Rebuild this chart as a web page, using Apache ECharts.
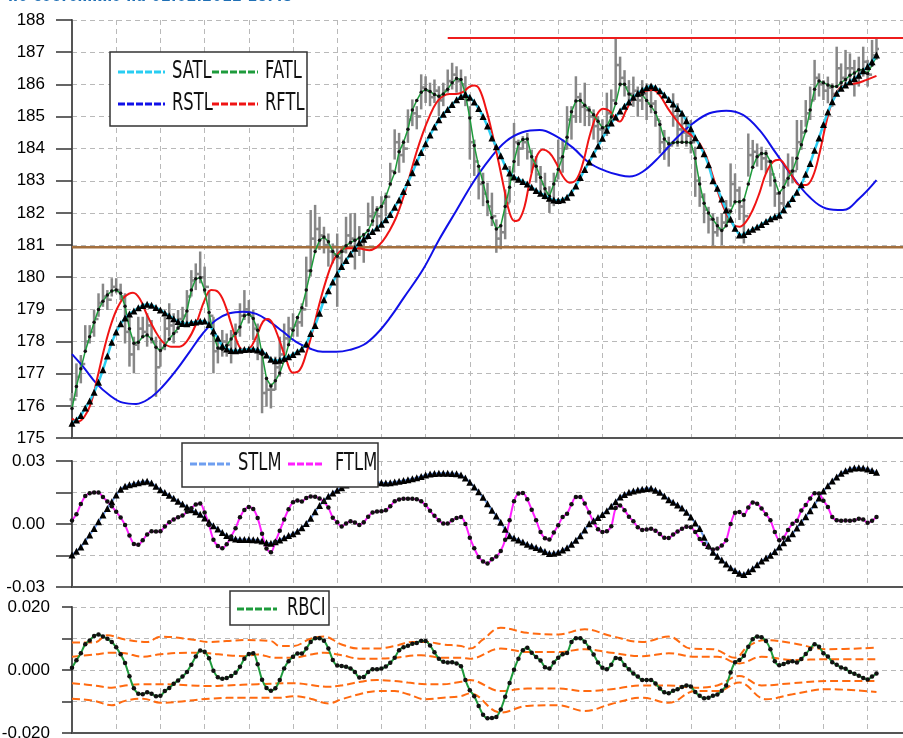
<!DOCTYPE html>
<html>
<head>
<meta charset="utf-8">
<script src="https://cdn.jsdelivr.net/npm/echarts/dist/echarts.min.js"></script>
<style>
html, body { margin: 0; padding: 0; background: #fff; }
#chart { width: 903px; height: 738px; }
</style>
</head>
<body>
<div id="chart"></div>
<script>
// price bars, one per bar index
const barHigh = [176.4,177.32,177.58,178.51,178.51,178.98,179.5,179.8,179.6,179.97,
179.97,179.8,179.5,178.77,178.15,178.77,178.77,178.88,178.67,178.15,
178.05,178.77,179.19,178.88,178.98,179.08,179.6,180.22,180.43,180.8,
180.33,179.6,178.77,178.15,178.36,178.25,178.36,178.56,179.19,179.6,
179.29,178.98,178.56,177.73,176.91,176.7,177.53,178.15,178.56,178.77,
178.88,178.77,179.19,180.64,182.09,182.25,181.88,181.57,181.36,181.05,
181.36,180.95,181.88,181.99,182.0,181.59,181.38,182.32,182.52,182.21,
182.52,182.63,183.56,184.6,184.49,184.28,185.22,185.53,185.32,186.31,
186.25,186.05,186.15,185.94,186.05,186.46,186.67,186.56,186.46,186.25,
185.32,184.28,183.46,183.25,182.94,182.63,181.8,181.59,182.73,183.46,
184.8,184.28,184.39,184.49,183.97,183.77,183.46,183.25,182.83,183.25,
184.28,184.28,185.32,185.32,186.25,185.74,186.05,185.32,185.22,185.01,
184.91,185.74,185.84,187.42,186.86,186.44,186.13,186.24,185.93,186.13,
186.03,185.93,185.51,184.89,184.58,184.37,185.72,185.41,184.99,184.99,
184.89,184.06,183.13,182.61,182.19,181.99,181.88,181.99,182.4,183.54,
183.23,182.82,182.4,184.47,184.27,184.16,184.06,183.96,183.65,183.13,
182.61,183.54,183.85,183.75,184.89,184.89,185.51,185.93,186.76,186.34,
186.13,186.24,186.03,187.17,186.65,187.07,186.96,186.76,186.86,187.17,
186.76,187.38,187.43];
const barLow = [175.9,176.28,176.7,177.73,177.94,178.15,178.77,179.08,178.98,179.4,
179.5,179.29,177.94,177.22,177.01,177.73,178.15,177.84,177.94,176.28,
177.22,177.73,178.15,177.94,178.36,178.46,178.56,179.4,179.6,179.81,
179.5,178.56,177.01,177.32,177.53,177.53,177.32,177.73,178.15,178.67,
178.56,178.05,177.42,175.77,175.97,175.92,176.49,176.91,177.63,177.94,
178.15,178.15,178.46,179.08,180.02,180.85,180.85,180.74,180.33,180.43,
179.08,180.33,180.74,180.95,180.24,180.66,180.45,181.59,181.59,181.49,
181.59,181.9,182.83,183.66,183.25,183.56,184.18,184.7,184.6,185.22,
185.42,185.32,185.42,185.01,185.32,185.74,185.84,185.74,185.74,185.32,
183.66,183.15,182.42,182.21,181.9,181.59,180.76,180.87,181.18,182.32,
183.25,183.46,183.97,183.66,183.25,182.94,182.63,182.42,182.0,182.21,
183.04,183.25,183.97,184.28,184.8,184.8,184.7,184.7,184.28,184.18,
184.28,184.39,184.7,185.41,185.93,185.62,185.41,185.3,184.99,185.2,
184.89,185.1,184.68,183.85,183.65,183.44,184.68,184.06,184.16,184.06,
183.85,182.5,182.19,181.68,181.36,180.98,181.26,181.0,181.57,182.19,
182.4,181.78,181.05,183.13,183.44,183.44,183.33,183.23,182.82,182.19,
181.88,182.19,182.82,182.92,183.33,183.96,184.68,184.89,185.51,185.62,
185.51,185.41,185.3,185.93,185.82,185.93,186.13,185.62,185.93,186.24,
185.93,186.55,186.76];
const barClose = [176.2,176.9,177.3,178.0,178.3,178.7,179.2,179.4,179.3,179.7,
179.6,179.4,178.3,177.6,177.9,178.4,178.3,178.5,178.0,177.2,
177.8,178.4,178.5,178.3,178.7,178.8,179.4,179.9,180.1,180.0,
179.7,178.8,177.7,177.8,178.0,177.9,178.2,178.3,178.8,179.0,
178.8,178.4,177.7,176.4,176.5,176.5,177.2,177.6,178.1,178.4,
178.5,178.6,179.0,180.2,181.2,181.5,181.3,181.0,180.8,180.7,
180.6,180.8,181.3,181.2,181.0,181.1,181.2,181.9,182.0,181.9,
182.3,182.5,183.3,184.2,183.8,184.0,184.9,185.1,185.0,185.9,
185.8,185.6,185.8,185.5,185.8,186.1,186.3,186.1,186.0,185.5,
184.2,183.6,182.9,182.6,182.2,181.9,181.2,181.4,182.3,183.1,
184.2,184.0,184.2,183.9,183.5,183.2,182.9,182.6,182.4,183.0,
183.7,184.0,184.9,185.0,185.6,185.3,185.2,185.0,184.7,184.6,
184.6,185.1,185.5,186.6,186.2,185.9,185.7,185.8,185.5,185.7,
185.4,185.4,184.9,184.2,184.0,184.1,185.0,184.6,184.5,184.4,
184.2,183.0,182.5,182.1,181.8,181.4,181.5,181.7,182.1,182.9,
182.7,182.2,181.9,183.8,183.9,183.8,183.7,183.6,183.2,182.6,
182.3,183.0,183.3,183.3,184.2,184.5,185.1,185.5,186.2,186.0,
185.8,185.9,185.7,186.5,186.2,186.5,186.5,186.2,186.4,186.7,
186.3,186.9,187.1];

const fatl = [175.92,176.6,177.15,177.7,178.15,178.6,179.0,179.25,179.45,179.57,
179.6,179.5,179.1,178.4,177.95,177.98,178.15,178.2,178.08,177.82,
177.72,177.88,178.08,178.25,178.42,178.6,178.95,179.6,179.95,179.98,
179.6,178.9,178.2,177.8,177.76,177.88,178.08,178.25,178.45,178.8,
178.85,178.72,178.35,177.6,176.85,176.62,176.78,177.02,177.4,177.9,
178.35,178.75,179.05,179.6,180.2,180.8,181.15,181.25,181.1,180.8,
180.65,180.8,180.98,181.08,181.15,181.22,181.32,181.45,181.75,182.1,
182.2,182.5,182.9,183.25,183.9,184.2,184.6,185.2,185.5,185.75,
185.84,185.78,185.68,185.63,185.7,185.85,186.05,186.18,186.15,185.7,
184.95,184.1,183.45,182.95,182.35,181.85,181.5,181.6,182.2,182.8,
183.6,184.15,184.28,184.3,183.75,183.45,183.1,182.75,182.52,182.9,
183.35,183.75,184.35,185.15,185.48,185.5,185.35,185.2,185.05,184.85,
184.65,184.7,184.98,185.4,186.0,186.0,185.7,185.6,185.65,185.68,
185.5,185.32,185.12,184.75,184.3,184.15,184.18,184.2,184.2,184.2,
184.18,183.7,182.9,182.3,182.0,181.8,181.6,181.45,181.6,182.05,
182.35,182.35,182.4,182.9,183.42,183.75,183.85,183.85,183.6,183.0,
182.62,182.8,183.08,183.3,183.7,184.12,184.55,185.2,185.85,186.1,
186.05,185.98,185.93,185.93,186.05,186.15,186.28,186.35,186.45,186.45,
186.34,186.6,186.86];

const satl = [175.46,175.56,175.7,175.93,176.15,176.42,176.73,177.12,177.55,177.98,
178.3,178.55,178.73,178.86,178.95,179.05,179.12,179.16,179.13,179.06,
178.98,178.89,178.8,178.71,178.62,178.56,178.55,178.59,178.61,178.63,
178.64,178.53,178.33,178.1,177.86,177.77,177.72,177.71,177.73,177.75,
177.76,177.76,177.74,177.7,177.58,177.45,177.4,177.42,177.48,177.53,
177.6,177.68,177.77,177.92,178.25,178.5,178.88,179.3,179.58,179.85,
180.1,180.33,180.52,180.72,180.9,181.07,181.18,181.3,181.42,181.53,
181.65,181.79,181.95,182.18,182.4,182.67,182.95,183.25,183.58,183.88,
184.15,184.42,184.67,184.9,185.07,185.22,185.37,185.52,185.62,185.68,
185.6,185.45,185.25,185.0,184.7,184.33,184.06,183.78,183.45,183.24,
183.12,183.05,182.98,182.9,182.8,182.7,182.61,182.54,182.46,182.4,
182.39,182.41,182.49,182.63,182.84,183.1,183.35,183.58,183.83,184.08,
184.32,184.57,184.8,184.98,185.17,185.32,185.45,185.6,185.72,185.82,
185.9,185.95,185.9,185.8,185.67,185.53,185.39,185.25,185.1,184.87,
184.62,184.34,184.1,183.84,183.5,183.0,182.77,182.43,182.09,181.8,
181.52,181.31,181.33,181.42,181.49,181.56,181.64,181.73,181.82,181.88,
181.93,182.1,182.28,182.45,182.64,182.88,183.2,183.54,183.95,184.33,
184.75,185.14,185.46,185.72,185.88,185.98,186.08,186.18,186.28,186.42,
186.55,186.7,186.91];

// slow lines read as [bar, value] points
const rstl = [[0,177.61],[2.5,177.22],[5.5,176.7],[8.5,176.33],[11.5,176.1],[14.5,176.06],[17.5,176.23],
[20.5,176.6],[23.6,177.11],[26.6,177.68],[29.6,178.25],[32.6,178.67],[35.6,178.88],[38.7,178.93],
[41.7,178.86],[44.7,178.62],[47.7,178.31],[50.7,177.99],[53.7,177.79],[56.7,177.68],[59.8,177.68],
[62.8,177.74],[66,177.9],[69,178.25],[72,178.75],[75,179.35],[79.4,180.24],[83.1,181.18],
[86.9,182.06],[90.7,182.94],[94.4,183.66],[98.2,184.23],[101.9,184.51],[105.8,184.58],[109.5,184.39],
[113.3,184.03],[117,183.56],[120.8,183.3],[124,183.17],[126.1,183.13],[129.1,183.28],[132.9,183.75],
[136.7,184.32],[140.5,184.79],[144.2,185.1],[148,185.18],[151.8,185.05],[155.5,184.58],[159.3,183.85],
[163,183.13],[166.8,182.5],[170.6,182.14],[174.4,182.09],[178.1,182.45],[182,183.02]];
const rftl = [[0,175.61],[1.3,175.51],[2.8,175.66],[4.3,176.08],[5.8,176.91],[7.4,177.84],[8.9,178.56],
[10.4,179.08],[11.9,179.39],[13.8,179.52],[15.3,179.34],[16.8,178.88],[18.7,178.36],[20.5,177.99],
[22.4,177.84],[24.3,177.84],[26.2,178.05],[28.1,178.56],[30,179.29],[31.5,179.6],[33,179.55],
[34.5,179.19],[36,178.56],[37.5,177.94],[38.7,177.74],[40.2,177.79],[41.7,178.15],[43.2,178.62],
[44.3,178.7],[45.4,178.56],[46.9,178.05],[48.5,177.42],[50,177.03],[51.5,177.11],[53,177.63],
[54.5,178.36],[56,179.19],[57.5,179.91],[59,180.48],[60.5,180.79],[62,180.9],[65,180.89],
[67.3,180.84],[68.8,180.92],[70.3,181.12],[71.8,181.44],[73.3,181.85],[74.8,182.42],[76.4,183.15],
[77.9,183.87],[79.4,184.49],[80.9,185.01],[82.4,185.42],[83.9,185.63],[85.4,185.7],[86.9,185.7],
[88.4,185.76],[89.9,185.92],[91,185.96],[92.2,185.84],[93.7,185.22],[95.2,184.39],[96.7,183.46],
[97.8,182.73],[99,182.0],[100.1,181.75],[101.2,181.8],[102.4,182.21],[103.5,182.94],[105,183.71],
[106.5,183.97],[108,183.87],[109.5,183.56],[111,183.15],[112.6,182.94],[114.1,183.04],[115.6,183.56],
[117.1,184.39],[118.6,185.01],[120.1,185.24],[121.6,185.17],[123.1,184.91],[123.9,184.84],[125.4,185.2],
[126.9,185.56],[129.1,185.77],[131.4,185.82],[132.9,185.67],[134.8,185.25],[136.7,184.89],[138.6,184.58],
[140.5,184.37],[142,184.16],[143.5,183.75],[144.9,183.18],[146.5,182.5],[148,181.99],[149.5,181.65],
[151,181.57],[152.5,181.73],[154,182.09],[155.5,182.61],[157,183.23],[158.6,183.59],[160,183.65],
[161.5,183.44],[163,183.13],[164.6,182.87],[166.1,182.87],[167.6,183.13],[169.1,183.85],[170.6,184.79],
[172.1,185.51],[173.6,185.87],[175.1,185.98],[177.4,186.03],[179.6,186.13],[182,186.26]];

const resistance = 187.44;
const resistanceFrom = 85;
const support = 180.93;

const stlm = [-0.0148,-0.013,-0.011,-0.0082,-0.0052,-0.0022,0.0011,0.0043,0.0074,0.0106,
0.0138,0.0166,0.018,0.0187,0.0192,0.0197,0.0201,0.0203,0.0195,0.018,
0.0163,0.015,0.0137,0.0123,0.0108,0.0095,0.0081,0.0068,0.0058,0.0046,
0.0028,0.001,-0.0008,-0.0024,-0.0041,-0.0055,-0.0065,-0.0071,-0.0074,-0.0074,
-0.0074,-0.0075,-0.0076,-0.0081,-0.0089,-0.0092,-0.0085,-0.0076,-0.0066,-0.0055,
-0.0046,-0.0035,-0.0018,0.0002,0.0027,0.0058,0.0088,0.0112,0.0132,0.0148,
0.0161,0.0173,0.0186,0.0195,0.0197,0.0199,0.0201,0.0204,0.0202,0.02,
0.0197,0.0195,0.0196,0.02,0.0204,0.0207,0.0211,0.0215,0.022,0.0226,
0.0233,0.0238,0.024,0.0242,0.0242,0.0242,0.0241,0.0239,0.0233,0.0219,
0.0199,0.0176,0.0153,0.0127,0.0096,0.0066,0.0038,0.0008,-0.0025,-0.0056,
-0.0067,-0.0076,-0.0086,-0.0097,-0.0105,-0.0112,-0.012,-0.0131,-0.0141,-0.0139,
-0.0134,-0.0124,-0.0113,-0.0096,-0.0077,-0.0056,-0.0028,0.0001,0.0016,0.0031,
0.0045,0.0063,0.0084,0.0106,0.0129,0.0141,0.0151,0.0157,0.0162,0.0166,
0.0169,0.017,0.0161,0.0151,0.0133,0.0116,0.0103,0.0091,0.0076,0.0056,
0.0033,0.0005,-0.0022,-0.0063,-0.0102,-0.0135,-0.0153,-0.0172,-0.019,-0.0208,
-0.0221,-0.0234,-0.0241,-0.0226,-0.0213,-0.0194,-0.0176,-0.0162,-0.0149,-0.0131,
-0.011,-0.0089,-0.0068,-0.0047,-0.0019,0.0008,0.0035,0.0063,0.0092,0.0124,
0.0157,0.0182,0.0205,0.0224,0.0242,0.0253,0.0262,0.0267,0.0268,0.0267,
0.0262,0.0255,0.0246];

const ftlm = [0.0017,0.0047,0.0095,0.0133,0.0147,0.015,0.015,0.0128,0.0107,0.0085,
0.0058,0.0031,-0.0005,-0.0055,-0.0095,-0.0099,-0.0077,-0.005,-0.0035,-0.0036,
-0.0035,-0.0012,0.0008,0.0022,0.0032,0.004,0.0058,0.0075,0.0093,0.0098,
0.0055,-0.0005,-0.0075,-0.0105,-0.0115,-0.0097,-0.006,-0.002,0.0032,0.0067,
0.0081,0.0072,0.0028,-0.0047,-0.0117,-0.0135,-0.0085,-0.0032,0.0022,0.007,
0.0104,0.0112,0.0107,0.0124,0.0131,0.013,0.0122,0.0105,0.0078,0.003,
0.0008,-0.0012,0.0002,0.0013,0.0007,-0.0005,0.0008,0.0035,0.0055,0.0059,
0.0061,0.0065,0.0085,0.0108,0.0117,0.012,0.012,0.012,0.0118,0.0108,
0.009,0.0063,0.0039,0.0018,0.0002,0.0002,0.0018,0.0028,0.0033,0.0,
-0.0065,-0.0115,-0.0157,-0.0178,-0.0188,-0.0168,-0.0155,-0.0128,-0.0075,0.0018,
0.0108,0.0145,0.0148,0.0118,0.0068,0.0018,-0.0038,-0.0068,-0.0074,-0.004,
-0.0006,0.0033,0.0049,0.0094,0.0128,0.0128,0.0098,0.0055,0.0008,-0.0025,
-0.0038,-0.0034,-0.0011,0.0076,0.0088,0.0066,0.0035,0.0013,-0.0015,-0.0028,
-0.0026,-0.0023,-0.0032,-0.0048,-0.0066,-0.0067,-0.005,-0.0036,-0.0023,-0.0013,
-0.0015,-0.0038,-0.0072,-0.0095,-0.0112,-0.0121,-0.0117,-0.0102,-0.0077,0.0,
0.0053,0.0057,0.0043,0.0078,0.0102,0.0097,0.0074,0.0046,0.0018,-0.0038,
-0.0077,-0.0065,-0.0028,0.0001,0.0016,0.0064,0.009,0.0122,0.0147,0.0145,
0.0111,0.0081,0.0033,0.0018,0.0015,0.0017,0.0015,0.0018,0.0025,0.0021,
0.0006,0.0015,0.0033];

const rbci = [0.0007,0.0031,0.0053,0.0082,0.0094,0.0108,0.0113,0.0106,0.0099,0.0089,
0.0072,0.005,0.0022,-0.002,-0.0058,-0.0075,-0.0077,-0.0071,-0.0075,-0.0083,
-0.0082,-0.0067,-0.0057,-0.0044,-0.0033,-0.0021,-0.0006,0.0017,0.0043,0.0062,
0.0058,0.0037,-0.0002,-0.0023,-0.0028,-0.0025,-0.0019,-0.0009,0.001,0.0036,
0.0051,0.0053,0.0018,-0.0031,-0.0057,-0.0066,-0.0058,-0.0032,0.0005,0.0028,
0.0042,0.0052,0.0052,0.0068,0.0089,0.0101,0.0101,0.0093,0.0068,0.0032,
0.0014,0.0013,0.001,0.0005,-0.0006,-0.0024,-0.0022,-0.0006,0.0002,0.0002,
0.0005,0.0011,0.0023,0.0039,0.0063,0.0072,0.0077,0.0083,0.0086,0.0093,
0.0092,0.0078,0.0056,0.0036,0.0026,0.0024,0.0025,0.0021,0.0012,-0.0032,
-0.0064,-0.0083,-0.0114,-0.0142,-0.0153,-0.0152,-0.0149,-0.0125,-0.0085,-0.0041,
0.0001,0.0036,0.0063,0.0071,0.0055,0.0041,0.003,0.0009,0.0005,0.0024,
0.0039,0.005,0.0054,0.0089,0.0101,0.0101,0.009,0.0071,0.0049,0.0024,
0.0007,0.0002,0.0017,0.0038,0.0036,0.0016,0.0002,-0.0011,-0.0021,-0.0032,
-0.0032,-0.0032,-0.0043,-0.0059,-0.0071,-0.0074,-0.0066,-0.0061,-0.0054,-0.0049,
-0.0052,-0.007,-0.0082,-0.009,-0.0088,-0.0082,-0.0078,-0.0066,-0.0049,-0.0008,
0.0025,0.0032,0.0045,0.0074,0.0098,0.0106,0.0104,0.0092,0.0066,0.0028,
0.0015,0.0019,0.0025,0.0028,0.0024,0.0035,0.0051,0.0067,0.0082,0.0074,
0.0053,0.0043,0.0025,0.0017,0.0008,0.0004,-0.0006,-0.0012,-0.0018,-0.0025,
-0.003,-0.0021,-0.0011];

// RBCI bands read as [bar, value] points
const bandUp2 = [[0,0.0087],[5,0.0087],[8,0.011],[12,0.0097],[17,0.0089],[20,0.0106],[27,0.0097],[31,0.0089],
[35,0.0092],[39,0.0095],[45,0.0092],[47,0.0076],[50,0.0076],[54,0.0099],[57,0.0106],[61,0.0081],[65,0.0068],
[69,0.0068],[73,0.0076],[77,0.0089],[80,0.0089],[84,0.0081],[88,0.0076],[90,0.0068],[93,0.0097],[97,0.0134],
[103,0.0118],[110,0.0113],[116,0.0129],[122,0.0108],[129,0.0089],[135,0.0106],[140,0.0068],[145,0.0066],
[150,0.0039],[153,0.0076],[157,0.0095],[163,0.0085],[171,0.0066],[182,0.0071]];
const bandUp1 = [[0,0.0042],[5,0.0049],[9,0.0055],[12,0.0053],[16,0.0042],[20,0.005],[27,0.0055],[31,0.0053],
[35,0.0047],[39,0.0044],[42,0.0049],[46,0.0039],[50,0.0039],[54,0.0049],[57,0.0055],[61,0.0047],[65,0.0036],
[69,0.0036],[73,0.0039],[79,0.0047],[84,0.0039],[88,0.0039],[90,0.0036],[97,0.0068],[103,0.0057],[110,0.0057],
[116,0.0066],[122,0.0055],[129,0.0044],[135,0.0053],[141,0.0042],[146,0.0042],[151,0.0021],[156,0.0042],
[163,0.0032],[171,0.0034],[182,0.0034]];
const bandDn1 = [[0,-0.0042],[5,-0.0049],[9,-0.0056],[12,-0.0049],[16,-0.0045],[20,-0.0045],[27,-0.0049],
[31,-0.0051],[35,-0.0049],[42,-0.0045],[50,-0.0042],[58,-0.0053],[61,-0.0049],[65,-0.0038],[69,-0.0032],
[73,-0.0035],[76,-0.004],[80,-0.0045],[84,-0.0045],[88,-0.0037],[90,-0.0032],[97,-0.0067],[103,-0.0059],
[110,-0.0059],[116,-0.0067],[122,-0.0061],[129,-0.0049],[135,-0.0049],[141,-0.0056],[146,-0.0049],
[151,-0.0019],[156,-0.0049],[163,-0.0042],[171,-0.0035],[182,-0.0035]];
const bandDn2 = [[0,-0.0091],[5,-0.0098],[9,-0.0112],[12,-0.0098],[16,-0.0091],[20,-0.0104],[24,-0.0101],
[31,-0.0091],[39,-0.0088],[47,-0.0088],[50,-0.0083],[54,-0.0091],[58,-0.0106],[61,-0.0093],[65,-0.0077],
[69,-0.0067],[73,-0.0067],[76,-0.0077],[80,-0.0093],[84,-0.0088],[88,-0.0083],[90,-0.0074],[97,-0.0135],
[103,-0.0114],[110,-0.0112],[116,-0.013],[122,-0.0108],[129,-0.0088],[135,-0.0104],[141,-0.0067],
[146,-0.0067],[151,-0.004],[157,-0.0093],[163,-0.0077],[171,-0.0061],[182,-0.007]];

const barCount = 188;
const labelFont = '"Liberation Sans", Arial, sans-serif';
const axisColor = '#555';
const gridDash = { color: '#b9b9b9', type: [5, 4], width: 1 };

const chart = echarts.init(document.getElementById('chart'));

const indexed = arr => arr.map((v, i) => [i, v]);
const near = (a, b) => Math.abs(a - b) < 1e-9;

const priceData = barHigh.map((h, i) => [i, h, barLow[i], barClose[i], i ? barClose[i - 1] : barClose[0]]);

function renderPriceBar(params, api) {
  const i = api.value(0);
  const hi = api.coord([i, api.value(1)]);
  const lo = api.coord([i, api.value(2)]);
  const cl = api.coord([i, api.value(3)]);
  const op = api.coord([i, api.value(4)]);
  const st = { stroke: '#878787', lineWidth: 2.5 };
  return {
    type: 'group',
    children: [
      { type: 'line', shape: { x1: hi[0], y1: hi[1], x2: lo[0], y2: lo[1] }, style: st },
      { type: 'line', shape: { x1: hi[0] - 2.5, y1: op[1], x2: hi[0], y2: op[1] }, style: st },
      { type: 'line', shape: { x1: hi[0], y1: cl[1], x2: hi[0] + 2.5, y2: cl[1] }, style: st }
    ]
  };
}

function xAxisFor(idx) {
  return {
    type: 'value', gridIndex: idx, min: 0, max: barCount, interval: 10,
    axisLabel: { show: false }, axisTick: { show: false },
    axisLine: { show: true, onZero: false, lineStyle: { color: axisColor, width: 2 } },
    splitLine: { show: true, lineStyle: gridDash }
  };
}

function yAxisFor(idx, min, max, interval, fmt, tickLen, margin) {
  return {
    type: 'value', gridIndex: idx, min: min, max: max, interval: interval,
    axisLine: { show: true, lineStyle: { color: axisColor, width: 2 } },
    axisTick: { show: true, length: tickLen, lineStyle: { color: '#333', width: 1.5 } },
    axisLabel: { formatter: fmt, margin: margin, fontFamily: labelFont, fontSize: 17, color: '#000' },
    splitLine: { show: true, lineStyle: gridDash }
  };
}

function dashedLegend(x, y, len, color) {
  return { type: 'line', z: 101, shape: { x1: x, y1: y, x2: x + len, y2: y },
    style: { stroke: color, lineWidth: 3, lineDash: [7, 2] } };
}
function legendText(x, y, text) {
  return { type: 'text', z: 101, x: x, y: y, scaleX: 0.68,
    style: { text: text, x: 0, y: 0, fill: '#111', font: '24px "DejaVu Sans", sans-serif', verticalAlign: 'middle' } };
}
function legendBox(x, y, w, h) {
  return { type: 'rect', z: 100, shape: { x: x, y: y, width: w, height: h },
    style: { fill: '#fff', stroke: '#333', lineWidth: 1.5 } };
}

const gridBase = { left: 72, right: 0, containLabel: false, outerBoundsMode: 'none' };

const option = {
  animation: false,
  backgroundColor: '#fff',
  grid: [
    Object.assign({ top: 20, height: 418 }, gridBase),
    Object.assign({ top: 461, height: 126 }, gridBase),
    Object.assign({ top: 607, height: 126 }, gridBase)
  ],
  xAxis: [xAxisFor(0), xAxisFor(1), xAxisFor(2)],
  yAxis: [
    yAxisFor(0, 175, 188, 1, v => String(Math.round(v)), 16, 27),
    yAxisFor(1, -0.03, 0.03, 0.015, v => near(v, 0) ? '0.00' : near(v, 0.03) ? '0.03' : near(v, -0.03) ? '-0.03' : '', 16, 27),
    yAxisFor(2, -0.02, 0.02, 0.01, v => near(v, 0) ? '0.000' : near(v, 0.02) ? '0.020' : near(v, -0.02) ? '-0.020' : '', 10, 22)
  ],
  graphic: [
    { type: 'text', x: 8, y: 6, z: 50, scaleX: 0.72,
      style: { text: 'по состоянию на 02.02.2012 18:45', x: 0, y: 0, fill: '#1f6fb5',
        font: 'bold 20px "DejaVu Sans", sans-serif', verticalAlign: 'bottom' } },
    legendBox(110, 52, 197, 74),
    dashedLegend(118, 72, 47, '#29cdf2'), legendText(172, 72, 'SATL'),
    dashedLegend(212, 72, 46, '#1e9b3c'), legendText(265, 72, 'FATL'),
    dashedLegend(118, 104, 47, '#1010e8'), legendText(172, 104, 'RSTL'),
    dashedLegend(212, 104, 46, '#f01414'), legendText(265, 104, 'RFTL'),
    legendBox(182, 443, 196, 44),
    dashedLegend(190, 464, 40, '#6f9ff0'), legendText(238, 464, 'STLM'),
    dashedLegend(288, 464, 34, '#ff1fff'), legendText(335, 464, 'FTLM'),
    legendBox(230, 591, 99, 34),
    dashedLegend(237, 609, 40, '#1e9b3c'), legendText(287, 609, 'RBCI')
  ],
  series: [
    { name: 'Price', type: 'custom', xAxisIndex: 0, yAxisIndex: 0, renderItem: renderPriceBar,
      encode: { x: 0, y: [1, 2] }, data: priceData, z: 2 },
    { name: 'Support', type: 'line', xAxisIndex: 0, yAxisIndex: 0, symbol: 'none', z: 3,
      data: [[0, support], [barCount, support]], lineStyle: { color: '#a36f3d', width: 2.5 } },
    { name: 'Resistance', type: 'line', xAxisIndex: 0, yAxisIndex: 0, symbol: 'none', z: 3,
      data: [[resistanceFrom, resistance], [barCount, resistance]], lineStyle: { color: '#ee1c1c', width: 2 } },
    { name: 'RSTL', type: 'line', xAxisIndex: 0, yAxisIndex: 0, symbol: 'none', smooth: 0.4, z: 4,
      data: rstl, lineStyle: { color: '#1010e8', width: 2 } },
    { name: 'RFTL', type: 'line', xAxisIndex: 0, yAxisIndex: 0, symbol: 'none', smooth: 0.4, z: 4,
      data: rftl, lineStyle: { color: '#f01414', width: 2 } },
    { name: 'FATL', type: 'line', xAxisIndex: 0, yAxisIndex: 0, symbol: 'circle', symbolSize: 3.5, z: 5,
      data: indexed(fatl), lineStyle: { color: '#1e9b3c', width: 1.5 }, itemStyle: { color: '#111' } },
    { name: 'SATL', type: 'line', xAxisIndex: 0, yAxisIndex: 0, symbol: 'triangle', symbolSize: 7, z: 6,
      data: indexed(satl), lineStyle: { color: '#29cdf2', width: 2.5 }, itemStyle: { color: '#000' } },

    { name: 'STLM', type: 'line', xAxisIndex: 1, yAxisIndex: 1, symbol: 'triangle', symbolSize: 7, z: 5,
      data: indexed(stlm), lineStyle: { color: '#6f9ff0', width: 2 }, itemStyle: { color: '#000' } },
    { name: 'FTLM', type: 'line', xAxisIndex: 1, yAxisIndex: 1, symbol: 'circle', symbolSize: 4.5, smooth: 0.3, z: 5,
      data: indexed(ftlm), lineStyle: { color: '#ff1fff', width: 2 }, itemStyle: { color: '#111' } },

    { name: 'Band+2', type: 'line', xAxisIndex: 2, yAxisIndex: 2, symbol: 'none', smooth: 0.4, z: 3,
      data: bandUp2, lineStyle: { color: '#ff6a10', width: 2, type: [8, 4] } },
    { name: 'Band+1', type: 'line', xAxisIndex: 2, yAxisIndex: 2, symbol: 'none', smooth: 0.4, z: 3,
      data: bandUp1, lineStyle: { color: '#ff6a10', width: 2, type: [8, 4] } },
    { name: 'Band-1', type: 'line', xAxisIndex: 2, yAxisIndex: 2, symbol: 'none', smooth: 0.4, z: 3,
      data: bandDn1, lineStyle: { color: '#ff6a10', width: 2, type: [8, 4] } },
    { name: 'Band-2', type: 'line', xAxisIndex: 2, yAxisIndex: 2, symbol: 'none', smooth: 0.4, z: 3,
      data: bandDn2, lineStyle: { color: '#ff6a10', width: 2, type: [8, 4] } },
    { name: 'RBCI', type: 'line', xAxisIndex: 2, yAxisIndex: 2, symbol: 'circle', symbolSize: 4.5, smooth: 0.3, z: 5,
      data: indexed(rbci), lineStyle: { color: '#1e9b3c', width: 2 }, itemStyle: { color: '#111' } }
  ]
};

chart.setOption(option);
</script>
</body>
</html>
